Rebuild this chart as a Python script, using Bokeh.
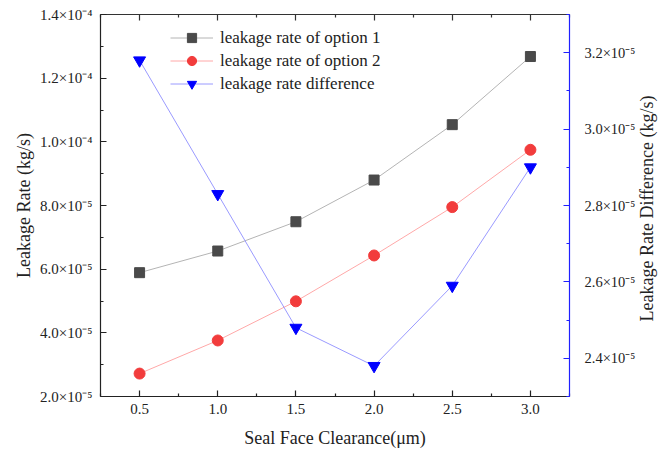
import math
from bokeh.plotting import figure
from bokeh.models import (Range1d, LinearAxis, FixedTicker, CustomJSTickFormatter,
                          Legend, LegendItem, Label)
from bokeh.embed import file_html
from bokeh.resources import INLINE

# ---- data ----
clearance = [0.5, 1.0, 1.5, 2.0, 2.5, 3.0]
option1 = [5.89e-5, 6.57e-5, 7.49e-5, 8.80e-5, 1.054e-4, 1.268e-4]
option2 = [2.72e-5, 3.76e-5, 4.99e-5, 6.43e-5, 7.95e-5, 9.75e-5]
difference = [3.18e-5, 2.83e-5, 2.48e-5, 2.38e-5, 2.59e-5, 2.90e-5]

x_ticks = [0.5, 1.0, 1.5, 2.0, 2.5, 3.0]
x_minor = [0.25, 0.75, 1.25, 1.75, 2.25, 2.75, 3.25]
left_ticks = [2e-5, 4e-5, 6e-5, 8e-5, 1.0e-4, 1.2e-4, 1.4e-4]
left_minor = [3e-5, 5e-5, 7e-5, 9e-5, 1.1e-4, 1.3e-4]
right_ticks = [2.4e-5, 2.6e-5, 2.8e-5, 3.0e-5, 3.2e-5]
right_minor = [2.3e-5, 2.5e-5, 2.7e-5, 2.9e-5, 3.1e-5, 3.3e-5]

FONT = "Liberation Serif"

sci_code = """
const sup = {'-':'\u207b','0':'\u2070','1':'\u00b9','2':'\u00b2','3':'\u00b3','4':'\u2074',
             '5':'\u2075','6':'\u2076','7':'\u2077','8':'\u2078','9':'\u2079'};
const e = Math.floor(Math.log10(Math.abs(tick)) + 1e-9);
const m = tick / Math.pow(10, e);
return m.toFixed(1) + '\u00d710' + String(e).split('').map(c => sup[c]).join('');
"""

W, H = 658, 452
BL, BR, BT, BB = 100, 89, 14, 56
p = figure(width=W, height=H, output_backend="svg", toolbar_location=None,
           x_range=Range1d(0.25, 3.25), y_range=Range1d(2e-5, 1.4e-4),
           min_border_left=BL, min_border_right=BR, min_border_top=BT, min_border_bottom=BB)
p.extra_y_ranges = {"right": Range1d(2.3e-5, 3.3e-5)}
p.outline_line_color = None
p.xgrid.visible = False
p.ygrid.visible = False
p.background_fill_color = "white"

def style_axis(ax, color="black"):
    ax.axis_line_color = color
    ax.axis_line_width = 1.2
    ax.major_tick_in = 6
    ax.major_tick_out = 0
    ax.minor_tick_in = 3
    ax.minor_tick_out = 0
    ax.major_tick_line_color = color
    ax.minor_tick_line_color = color
    ax.major_tick_line_width = 1.2
    ax.minor_tick_line_width = 1.2
    ax.major_label_text_font = FONT
    ax.major_label_text_font_size = "15px"
    ax.major_label_text_color = "#222222"
    ax.axis_label_text_font = FONT
    ax.axis_label_text_font_size = "18px"
    ax.axis_label_text_font_style = "normal"
    ax.axis_label_text_color = "#222222"

# bottom axis
xa = p.xaxis[0]
xa.ticker = FixedTicker(ticks=x_ticks, minor_ticks=x_minor)
xa.formatter = CustomJSTickFormatter(code="return tick.toFixed(1);")
xa.axis_label = "Seal Face Clearance(\u03bcm)"
style_axis(xa, "#222222")
xa.major_label_standoff = 7
xa.axis_label_standoff = 11

# left axis
ya = p.yaxis[0]
ya.ticker = FixedTicker(ticks=left_ticks, minor_ticks=left_minor)
ya.formatter = CustomJSTickFormatter(code=sci_code)
ya.axis_label = "Leakage Rate (kg/s)"
style_axis(ya, "#222222")
ya.major_label_standoff = 8
ya.axis_label_standoff = 3

# top axis (ticks only)
ta = LinearAxis(ticker=FixedTicker(ticks=x_ticks, minor_ticks=x_minor),
                formatter=CustomJSTickFormatter(code="return '';"))
style_axis(ta, "#333333")
ta.major_label_standoff = 0
ta.major_label_text_font_size = "1px"
p.add_layout(ta, "above")

# right axis
ra = LinearAxis(y_range_name="right",
                ticker=FixedTicker(ticks=right_ticks, minor_ticks=right_minor),
                formatter=CustomJSTickFormatter(code=sci_code))
style_axis(ra, "#2020ff")
ra.major_label_text_color = "#222222"
ra.major_label_text_font_size = "14.5px"
ra.major_label_standoff = 15
p.add_layout(ra, "right")

# right axis title (reads bottom-to-top), in its own side panel
right_title = Label(x=8, y=188, x_units="screen", y_units="screen",
                    text="Leakage Rate Difference (kg/s)", angle=math.pi / 2,
                    text_align="center", text_baseline="middle",
                    text_font=FONT, text_font_size="18px", text_color="#222222")
p.add_layout(right_title, "right")

# series
l1 = p.line(clearance, option1, line_color="#b4b4b4", line_width=1)
m1 = p.scatter(clearance, option1, marker="square", size=10,
               fill_color="#4a4a4a", line_color="#4a4a4a")
l2 = p.line(clearance, option2, line_color="#ffa8a8", line_width=1)
m2 = p.scatter(clearance, option2, marker="circle", size=11,
               fill_color="#f23c3c", line_color="#f23c3c")
l3 = p.line(clearance, difference, line_color="#9a9aff", line_width=1, y_range_name="right")
m3 = p.scatter(clearance, difference, marker="inverted_triangle", size=12,
               fill_color="#0000ff", line_color="#0000ff", y_range_name="right")

legend = Legend(items=[
    LegendItem(label="leakage rate of option 1", renderers=[l1, m1]),
    LegendItem(label="leakage rate of option 2", renderers=[l2, m2]),
    LegendItem(label="leakage rate difference", renderers=[l3, m3]),
], location=(70, 301), orientation="vertical")
legend.border_line_color = None
legend.background_fill_alpha = 0
legend.label_text_font = FONT
legend.label_text_font_size = "17px"
legend.label_text_color = "#222222"
legend.label_text_line_height = 0.9
legend.glyph_width = 43
legend.glyph_height = 23
legend.label_height = 23
legend.label_standoff = 7
legend.spacing = 0
legend.padding = 0
legend.margin = 0
p.add_layout(legend, "center")

open("out.html", "w").write(file_html(p, INLINE))
